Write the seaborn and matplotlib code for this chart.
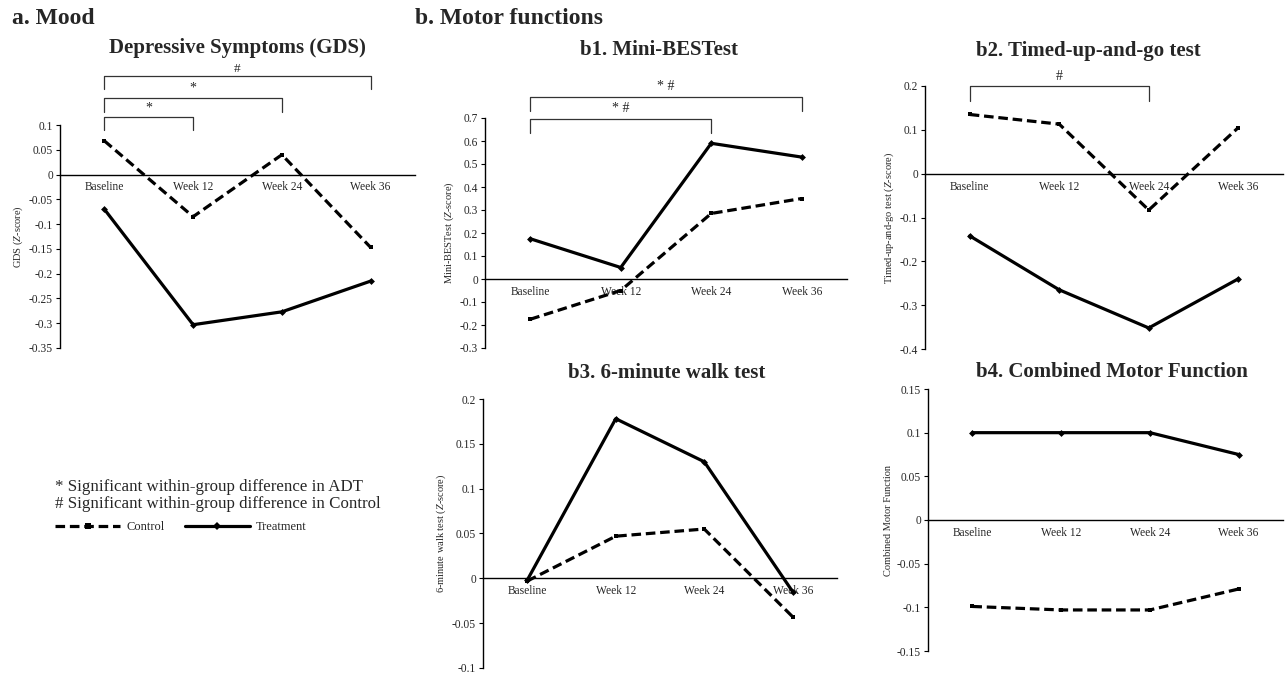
import numpy as np
import pandas as pd
import matplotlib
matplotlib.use("Agg")
import matplotlib.pyplot as plt
import matplotlib.transforms as mtransforms
from matplotlib.lines import Line2D
import seaborn as sns

# ---------------- data ----------------
timepoints = ["Baseline", "Week 12", "Week 24", "Week 36"]
groups = ["Control", "Treatment"]

gds_control = [0.068, -0.085, 0.040, -0.147]
gds_treatment = [-0.070, -0.303, -0.277, -0.215]
gds_yticks = [-0.35, -0.3, -0.25, -0.2, -0.15, -0.1, -0.05, 0, 0.05, 0.1]

mbt_control = [-0.175, -0.050, 0.285, 0.350]
mbt_treatment = [0.175, 0.050, 0.590, 0.530]
mbt_yticks = [-0.3, -0.2, -0.1, 0, 0.1, 0.2, 0.3, 0.4, 0.5, 0.6, 0.7]

tug_control = [0.135, 0.113, -0.083, 0.105]
tug_treatment = [-0.142, -0.265, -0.352, -0.240]
tug_yticks = [-0.4, -0.3, -0.2, -0.1, 0, 0.1, 0.2]

smwt_control = [-0.003, 0.047, 0.055, -0.043]
smwt_treatment = [-0.002, 0.178, 0.130, -0.015]
smwt_yticks = [-0.1, -0.05, 0, 0.05, 0.1, 0.15, 0.2]

cmf_control = [-0.099, -0.103, -0.103, -0.079]
cmf_treatment = [0.100, 0.100, 0.100, 0.075]
cmf_yticks = [-0.15, -0.1, -0.05, 0, 0.05, 0.1, 0.15]

# ---------------- style ----------------
sns.set_style("white")
plt.rcParams["font.family"] = ["Liberation Serif", "DejaVu Serif"]
plt.rcParams["mathtext.fontset"] = "custom"
plt.rcParams["mathtext.rm"] = "Liberation Serif"
plt.rcParams["mathtext.it"] = "Liberation Serif:italic"

fig = plt.figure(figsize=(12.85, 6.77), dpi=100)
W, H = 1285.0, 677.0


def axes_px(left, right, top, bottom):
    return fig.add_axes([left / W, 1 - bottom / H, (right - left) / W, (bottom - top) / H])


DASH = (3, 1.5)


def draw(ax, control, treatment, yticks, ylabel):
    pos = np.arange(len(timepoints)) + 0.5
    df = pd.DataFrame({
        "pos": np.concatenate([pos, pos]),
        "value": list(control) + list(treatment),
        "group": [groups[0]] * len(control) + [groups[1]] * len(treatment),
    })
    sns.lineplot(data=df, x="pos", y="value", hue="group", style="group",
                 palette={"Control": "black", "Treatment": "black"},
                 dashes={"Control": DASH, "Treatment": ""},
                 markers={"Control": "s", "Treatment": "D"},
                 markersize=3.5, markeredgewidth=0, linewidth=2.3,
                 ax=ax, legend=False)
    ax.set_xlim(0, len(timepoints))
    ax.set_ylim(min(yticks), max(yticks))
    for s in ("top", "right"):
        ax.spines[s].set_visible(False)
    ax.spines["bottom"].set_position(("data", 0))
    for s in ("bottom", "left"):
        ax.spines[s].set_linewidth(1.0)
        ax.spines[s].set_color("black")
    ax.set_xticks(pos)
    ax.set_xticklabels(timepoints)
    ax.set_xticks(np.arange(1, len(timepoints) + 1), minor=True)
    ax.tick_params(axis="x", which="major", length=0, pad=5, labelsize=8.3)
    ax.tick_params(axis="x", which="minor", length=4, width=0.8, direction="out", color="black")
    ax.set_yticks(yticks)
    ax.set_yticklabels([f"{t:g}" for t in yticks])
    ax.tick_params(axis="y", length=3, width=0.8, direction="out", labelsize=8.3, pad=2, left=True, color="black")
    ax.set_xlabel("")
    ax.set_ylabel(ylabel, fontsize=7.5, labelpad=3)
    ax.grid(False)


def bracket(ax, i0, i1, ytop, ybot, label, label_y, fs=10):
    trans = mtransforms.blended_transform_factory(ax.transData, ax.transAxes)
    x0, x1 = i0 + 0.5, i1 + 0.5
    ax.plot([x0, x0, x1, x1], [ybot, ytop, ytop, ybot], transform=trans,
            color="#333333", lw=0.9, clip_on=False)
    ax.text((x0 + x1) / 2, label_y, label, transform=trans, ha="center",
            va="center", fontsize=fs)


def title(ax, text, x, y):
    ax.text(x, y, text, transform=ax.transAxes, ha="center", va="center",
            fontsize=15, fontweight="bold")


# Panel a
ax_a = axes_px(60, 415, 125, 348)
draw(ax_a, gds_control, gds_treatment, gds_yticks, r"GDS ($\it{Z}$-score)")
title(ax_a, "Depressive Symptoms (GDS)", 0.5, 1.345)
bracket(ax_a, 0, 1, 1.036, 0.978, "*", 1.075)
bracket(ax_a, 0, 2, 1.121, 1.058, "*", 1.165)
bracket(ax_a, 0, 3, 1.220, 1.161, "#", 1.252, fs=9.5)

# Panel b1
ax_b1 = axes_px(485, 847, 118, 348)
draw(ax_b1, mbt_control, mbt_treatment, mbt_yticks, r"Mini-BESTest ($\it{Z}$-score)")
title(ax_b1, "b1. Mini-BESTest", 0.48, 1.296)
bracket(ax_b1, 0, 2, 0.996, 0.935, "* #", 1.043)
bracket(ax_b1, 0, 3, 1.091, 1.030, "* #", 1.135)

# Panel b2
ax_b2 = axes_px(925, 1283, 86, 349)
draw(ax_b2, tug_control, tug_treatment, tug_yticks, r"Timed-up-and-go test ($\it{Z}$-score)")
title(ax_b2, "b2. Timed-up-and-go test", 0.455, 1.133)
bracket(ax_b2, 0, 2, 1.0, 0.943, "#", 1.036)

# Panel b3
ax_b3 = axes_px(483, 837, 399, 668)
draw(ax_b3, smwt_control, smwt_treatment, smwt_yticks, r"6-minute walk test ($\it{Z}$-score)")
title(ax_b3, "b3. 6-minute walk test", 0.52, 1.097)

# Panel b4
ax_b4 = axes_px(928, 1283, 389, 651)
draw(ax_b4, cmf_control, cmf_treatment, cmf_yticks, "Combined Motor Function")
title(ax_b4, "b4. Combined Motor Function", 0.518, 1.065)

# Panel headers
fig.text(12 / W, 1 - 19 / H, "a. Mood", fontsize=17, fontweight="bold", va="center", ha="left")
fig.text(415 / W, 1 - 19 / H, "b. Motor functions", fontsize=17, fontweight="bold", va="center", ha="left")

# Notes
fig.text(55 / W, 1 - 487 / H, "* Significant within-group difference in ADT", fontsize=12.2, va="center", ha="left")
fig.text(55 / W, 1 - 504 / H, "# Significant within-group difference in Control", fontsize=12.2, va="center", ha="left")

handles = [
    Line2D([], [], color="black", lw=2.3, dashes=DASH, marker="s", markersize=4, markeredgewidth=0),
    Line2D([], [], color="black", lw=2.3, marker="D", markersize=4, markeredgewidth=0),
]
fig.legend(handles, groups, loc="center left", bbox_to_anchor=(55 / W, 1 - 527 / H),
           ncol=2, frameon=False, handlelength=5.2, columnspacing=1.6,
           handletextpad=0.5, fontsize=9, borderaxespad=0, borderpad=0)

fig.savefig("out.png", dpi=100, facecolor="white")
